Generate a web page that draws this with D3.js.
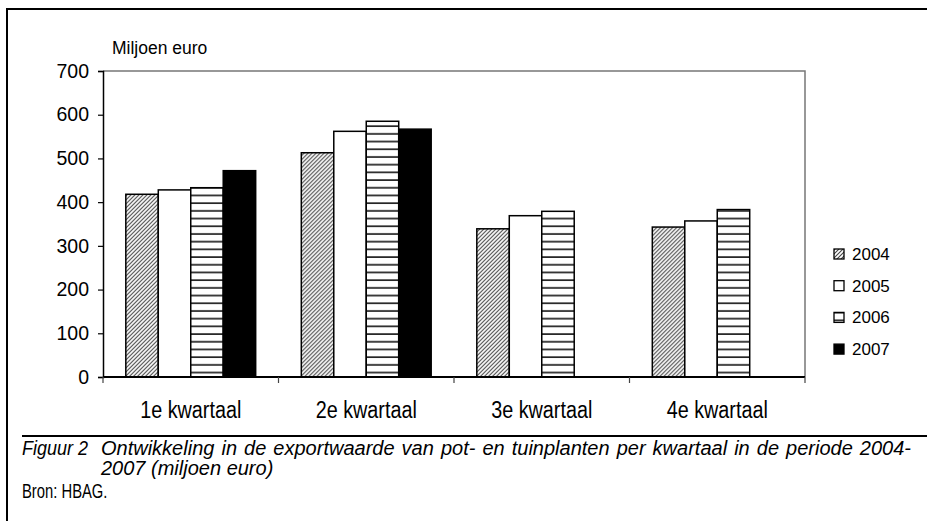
<!DOCTYPE html>
<html>
<head>
<meta charset="utf-8">
<script src="https://cdn.jsdelivr.net/npm/d3@7"></script>
<style>
  body { margin: 0; background: #fff; }
  svg { display: block; }
</style>
</head>
<body>
<svg id="chart"></svg>
<script>
const width = 927;
const height = 521;

const quarters = ['1e kwartaal', '2e kwartaal', '3e kwartaal', '4e kwartaal'];
const years = ['2004', '2005', '2006', '2007'];
const values2004 = [418, 513, 339, 343];
const values2005 = [428, 562, 369, 357];
const values2006 = [433, 585, 379, 383];
const values2007 = [472, 567, null, null];
const yTicks = [0, 100, 200, 300, 400, 500, 600, 700];

const series = [values2004, values2005, values2006, values2007];

const margin = {left: 103, right: 122, top: 71, bottom: 144};

const svg = d3.select('#chart')
    .attr('width', width)
    .attr('height', height);

// patterns
const defs = svg.append('defs');
const diag = defs.append('pattern')
    .attr('id', 'diag')
    .attr('patternUnits', 'userSpaceOnUse')
    .attr('width', 4).attr('height', 4);
diag.append('rect').attr('width', 4).attr('height', 4).attr('fill', '#fff');
diag.append('path')
    .attr('d', 'M-1,1 l2,-2 M0,4 l4,-4 M3,5 l2,-2')
    .attr('stroke', '#444').attr('stroke-width', 1.1);

const horiz = defs.append('pattern')
    .attr('id', 'horiz')
    .attr('patternUnits', 'userSpaceOnUse')
    .attr('width', 8).attr('height', 7.7);
horiz.append('rect').attr('width', 8).attr('height', 7.7).attr('fill', '#fff');
horiz.append('line')
    .attr('x1', 0).attr('x2', 8).attr('y1', 3).attr('y2', 3)
    .attr('stroke', '#222').attr('stroke-width', 1.7);

const fills = ['url(#diag)', '#fff', 'url(#horiz)', '#000'];

// outer frame
svg.append('path')
    .attr('d', `M7,521 V9 H927`)
    .attr('fill', 'none').attr('stroke', '#000').attr('stroke-width', 2);
svg.append('line')
    .attr('x1', 22).attr('x2', 927).attr('y1', 436).attr('y2', 436)
    .attr('stroke', '#000').attr('stroke-width', 2);

const x = d3.scaleBand()
    .domain(quarters)
    .range([margin.left, width - margin.right])
    .paddingInner(0.26)
    .paddingOuter(0.13);

const xYear = d3.scaleBand()
    .domain(years)
    .range([0, x.bandwidth()]);

const y = d3.scaleLinear()
    .domain([0, 700])
    .range([height - margin.bottom, margin.top]);

// plot border (top and right)
svg.append('path')
    .attr('d', `M${margin.left},${y(700)} H${width - margin.right} V${y(0)}`)
    .attr('fill', 'none').attr('stroke', '#777').attr('stroke-width', 1.5);

// bars
const groups = svg.append('g').selectAll('g')
    .data(quarters)
    .join('g')
    .attr('transform', d => `translate(${x(d)},0)`);

groups.selectAll('rect')
    .data((q, qi) => years.map((yr, i) => ({year: yr, i: i, value: series[i][qi]})).filter(d => d.value != null))
    .join('rect')
    .attr('x', d => xYear(d.year))
    .attr('y', d => y(d.value))
    .attr('width', xYear.bandwidth())
    .attr('height', d => y(0) - y(d.value))
    .attr('fill', d => fills[d.i])
    .attr('stroke', '#000')
    .attr('stroke-width', 1.5);

// y axis
const yAxis = svg.append('g')
    .attr('transform', `translate(${margin.left},0)`)
    .call(d3.axisLeft(y).tickValues(yTicks).tickSize(5).tickPadding(9));
yAxis.select('.domain').attr('stroke', '#000').attr('stroke-width', 1.5);
yAxis.selectAll('.tick line').attr('stroke', '#000').attr('stroke-width', 1.2);
yAxis.selectAll('.tick text')
    .attr('font-family', 'Liberation Sans, Arial, sans-serif')
    .attr('font-size', 19.5).attr('fill', '#000');

// x axis
const quarterEdges = quarters.map(q => x(q) - x.step() * x.paddingInner() / 2).concat([width - margin.right]);
const xAxisG = svg.append('g');
xAxisG.append('line')
    .attr('x1', margin.left).attr('x2', width - margin.right)
    .attr('y1', y(0)).attr('y2', y(0))
    .attr('stroke', '#000').attr('stroke-width', 2);
xAxisG.selectAll('.tick')
    .data(quarterEdges)
    .join('line')
    .attr('x1', d => d).attr('x2', d => d)
    .attr('y1', y(0)).attr('y2', y(0) + 6)
    .attr('stroke', '#444').attr('stroke-width', 1.2);
xAxisG.selectAll('text')
    .data(quarters)
    .join('text')
    .attr('transform', d => `translate(${x(d) + x.bandwidth() / 2},418) scale(0.86,1)`)
    .attr('text-anchor', 'middle')
    .attr('font-family', 'Liberation Sans, Arial, sans-serif')
    .attr('font-size', 23)
    .text(d => d);

// unit label
svg.append('text')
    .attr('x', 112).attr('y', 54)
    .attr('font-family', 'Liberation Sans, Arial, sans-serif')
    .attr('font-size', 17.5)
    .text('Miljoen euro');

// legend
const legend = svg.append('g').selectAll('g')
    .data(years)
    .join('g')
    .attr('transform', (d, i) => `translate(834,${254 + i * 31.7})`);
legend.append('rect')
    .attr('x', 0).attr('y', -5)
    .attr('width', 10).attr('height', 10)
    .attr('fill', (d, i) => fills[i])
    .attr('stroke', '#000').attr('stroke-width', 1.3);
legend.append('text')
    .attr('x', 18).attr('y', 6)
    .attr('font-family', 'Liberation Sans, Arial, sans-serif')
    .attr('font-size', 17)
    .text(d => d);

// caption
const captionFont = 'Liberation Sans, Arial, sans-serif';
svg.append('text')
    .attr('transform', 'translate(22,455) scale(0.9,1)')
    .attr('font-family', captionFont).attr('font-style', 'italic')
    .attr('font-size', 20)
    .text('Figuur 2');
svg.append('text')
    .attr('x', 101).attr('y', 455)
    .attr('font-family', captionFont).attr('font-style', 'italic')
    .attr('font-size', 20)
    .attr('word-spacing', 1.5)
    .text('Ontwikkeling in de exportwaarde van pot- en tuinplanten per kwartaal in de periode 2004-');
svg.append('text')
    .attr('x', 101).attr('y', 475)
    .attr('font-family', captionFont).attr('font-style', 'italic')
    .attr('font-size', 20)
    .text('2007 (miljoen euro)');
svg.append('text')
    .attr('transform', 'translate(22,498) scale(0.74,1)')
    .attr('font-family', captionFont)
    .attr('font-size', 20)
    .text('Bron: HBAG.');
</script>
</body>
</html>
